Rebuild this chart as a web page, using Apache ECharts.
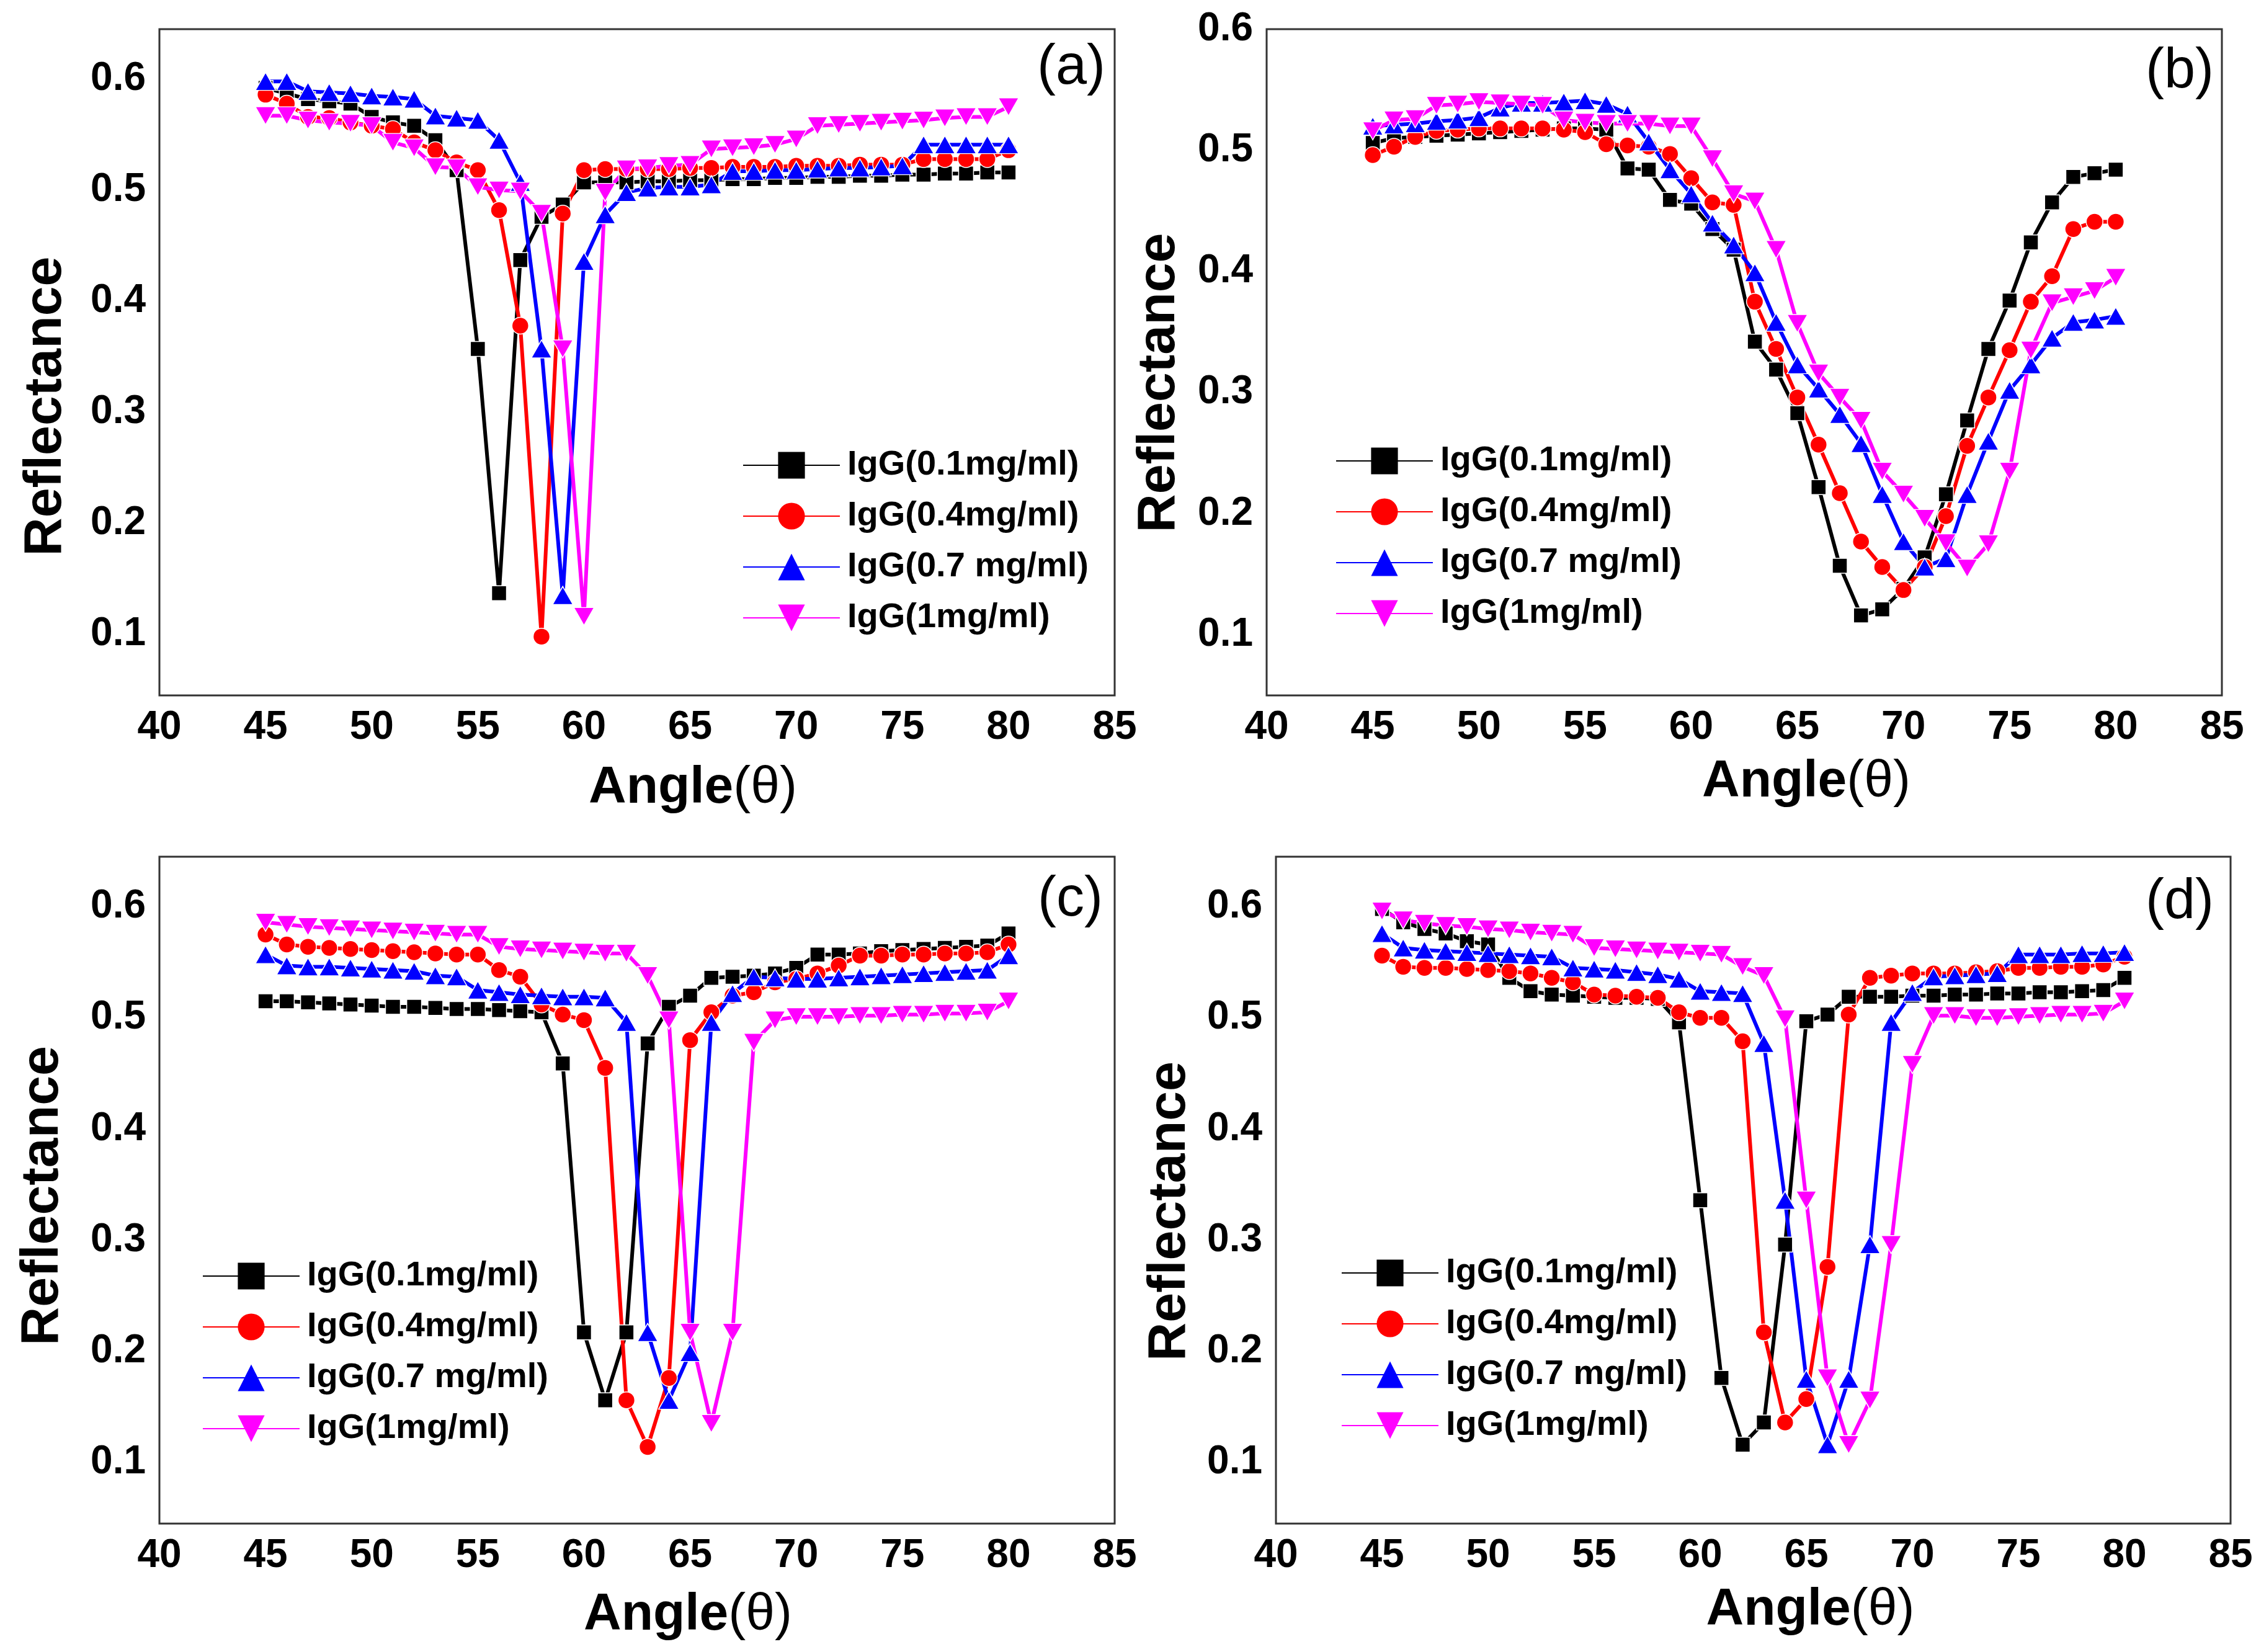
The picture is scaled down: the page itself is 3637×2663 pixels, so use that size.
<!DOCTYPE html>
<html>
<head>
<meta charset="utf-8">
<title>IgG reflectance curves</title>
<script src="https://cdn.jsdelivr.net/npm/echarts@6/dist/echarts.min.js"></script>
<style>
html, body { margin: 0; padding: 0; background: #fff; }
#chart { width: 3637px; height: 2663px; }
</style>
</head>
<body>
<div id="chart"></div>
<script>
// angle (deg) of every measured point, shared by all curves
var angles = [45,46,47,48,49,50,51,52,53,54,55,56,57,58,59,60,61,62,63,64,65,66,67,68,69,70,71,72,73,74,75,76,77,78,79,80];
var seriesNames = ['IgG(0.1mg/ml)', 'IgG(0.4mg/ml)', 'IgG(0.7 mg/ml)', 'IgG(1mg/ml)'];
var yTickLabels = ['0.1', '0.2', '0.3', '0.4', '0.5', '0.6'];
var panelLabels = ['(a)', '(b)', '(c)', '(d)'];

// (a)
var a01 = [0.592,0.587,0.582,0.580,0.578,0.566,0.561,0.558,0.545,0.518,0.357,0.137,0.437,0.476,0.487,0.507,0.507,0.507,0.508,0.508,0.509,0.509,0.510,0.510,0.511,0.511,0.512,0.512,0.513,0.513,0.514,0.514,0.515,0.515,0.516,0.516];
var a04 = [0.586,0.578,0.566,0.565,0.561,0.558,0.555,0.543,0.536,0.525,0.518,0.482,0.378,0.098,0.479,0.518,0.519,0.519,0.519,0.519,0.520,0.520,0.521,0.521,0.521,0.522,0.522,0.522,0.523,0.523,0.523,0.528,0.528,0.528,0.528,0.536];
var a07 = [0.598,0.598,0.589,0.588,0.587,0.585,0.584,0.582,0.567,0.565,0.563,0.545,0.507,0.357,0.135,0.436,0.478,0.498,0.502,0.503,0.503,0.505,0.517,0.517,0.518,0.518,0.519,0.520,0.520,0.521,0.522,0.541,0.541,0.541,0.541,0.541];
var a10 = [0.567,0.567,0.563,0.561,0.560,0.558,0.543,0.538,0.521,0.520,0.503,0.500,0.499,0.479,0.357,0.116,0.498,0.519,0.520,0.522,0.523,0.537,0.538,0.539,0.541,0.546,0.558,0.559,0.560,0.561,0.562,0.563,0.565,0.566,0.566,0.575];

// (b)
var b01 = [0.506,0.510,0.511,0.512,0.513,0.514,0.515,0.516,0.517,0.518,0.518,0.517,0.485,0.484,0.459,0.456,0.435,0.418,0.342,0.319,0.283,0.222,0.157,0.116,0.121,0.138,0.164,0.216,0.277,0.336,0.376,0.424,0.457,0.478,0.481,0.484];
var b04 = [0.496,0.503,0.511,0.516,0.517,0.518,0.518,0.518,0.518,0.517,0.515,0.505,0.504,0.503,0.497,0.477,0.457,0.455,0.375,0.336,0.296,0.257,0.217,0.177,0.156,0.137,0.156,0.198,0.256,0.296,0.335,0.375,0.396,0.435,0.441,0.441];
var b07 = [0.520,0.521,0.522,0.524,0.525,0.527,0.535,0.539,0.539,0.540,0.541,0.538,0.530,0.507,0.484,0.464,0.440,0.422,0.399,0.358,0.323,0.303,0.282,0.258,0.216,0.177,0.156,0.163,0.216,0.260,0.302,0.323,0.345,0.358,0.360,0.363];
var b10 = [0.516,0.525,0.526,0.537,0.538,0.540,0.539,0.538,0.537,0.525,0.523,0.522,0.522,0.522,0.520,0.520,0.493,0.464,0.458,0.418,0.357,0.316,0.296,0.277,0.235,0.216,0.196,0.176,0.155,0.175,0.235,0.335,0.374,0.379,0.384,0.395];

// (c)
var c01 = [0.515,0.515,0.514,0.513,0.512,0.511,0.510,0.510,0.509,0.508,0.508,0.507,0.506,0.505,0.459,0.217,0.156,0.217,0.477,0.510,0.520,0.536,0.537,0.538,0.540,0.545,0.557,0.557,0.558,0.560,0.561,0.562,0.563,0.564,0.565,0.576];
var c04 = [0.575,0.566,0.564,0.563,0.562,0.561,0.560,0.559,0.558,0.557,0.557,0.543,0.537,0.512,0.503,0.498,0.455,0.156,0.114,0.176,0.480,0.505,0.520,0.523,0.532,0.535,0.540,0.547,0.556,0.556,0.557,0.557,0.558,0.558,0.559,0.566];
var c07 = [0.557,0.547,0.546,0.546,0.545,0.544,0.543,0.542,0.538,0.537,0.525,0.523,0.521,0.520,0.519,0.519,0.518,0.496,0.217,0.156,0.199,0.496,0.522,0.537,0.536,0.535,0.535,0.536,0.537,0.538,0.539,0.540,0.541,0.542,0.543,0.556];
var c10 = [0.586,0.584,0.582,0.581,0.580,0.579,0.578,0.577,0.576,0.575,0.575,0.564,0.562,0.561,0.560,0.559,0.558,0.558,0.538,0.498,0.217,0.135,0.217,0.478,0.498,0.501,0.501,0.501,0.502,0.502,0.503,0.503,0.504,0.504,0.505,0.515];

// (d)
var d01 = [0.598,0.586,0.580,0.576,0.569,0.566,0.536,0.524,0.521,0.520,0.519,0.518,0.518,0.517,0.496,0.336,0.176,0.116,0.136,0.296,0.497,0.503,0.519,0.519,0.519,0.520,0.520,0.521,0.521,0.522,0.522,0.523,0.523,0.524,0.525,0.536];
var d04 = [0.556,0.546,0.545,0.545,0.544,0.543,0.542,0.540,0.536,0.532,0.521,0.520,0.519,0.518,0.505,0.500,0.500,0.479,0.217,0.136,0.157,0.276,0.503,0.536,0.538,0.540,0.540,0.540,0.541,0.542,0.545,0.545,0.546,0.546,0.548,0.555];
var d07 = [0.576,0.563,0.561,0.560,0.559,0.558,0.557,0.556,0.555,0.545,0.544,0.543,0.541,0.539,0.535,0.524,0.523,0.522,0.477,0.336,0.175,0.116,0.175,0.296,0.496,0.523,0.537,0.538,0.539,0.540,0.557,0.557,0.557,0.558,0.558,0.559];
var d10 = [0.596,0.588,0.585,0.583,0.582,0.580,0.579,0.577,0.576,0.575,0.563,0.562,0.561,0.560,0.559,0.558,0.557,0.546,0.538,0.499,0.336,0.176,0.116,0.156,0.296,0.458,0.502,0.502,0.500,0.500,0.501,0.502,0.503,0.503,0.504,0.515];

var panelData = [[a01, a04, a07, a10], [b01, b04, b07, b10], [c01, c04, c07, c10], [d01, d04, d07, d10]];

// looks of the four curves
var FONT = '"Liberation Sans", Arial, sans-serif';
var styles = [
    { color: '#000000', symbol: 'rect', size: 24, rotate: 0 },
    { color: '#ff0000', symbol: 'circle', size: 27, rotate: 0 },
    { color: '#0000ff', symbol: 'triangle', size: [33, 29], rotate: 0 },
    { color: '#ff00ff', symbol: 'triangle', size: [33, 29], rotate: 180 }
];

// where every panel sits on the page
var layout = [
    { grid: { left: 257, top: 47, width: 1540, height: 1074 }, yMin: 0.045, yMax: 0.645,
      legend: { left: 1192, top: 717 }, tag: [1782, 110],
      xShift: 180, xGap: 108, yGap: 140, yShift: 142 },
    { grid: { left: 2042, top: 47, width: 1540, height: 1074 }, yMin: 0.05, yMax: 0.6,
      legend: { left: 2148, top: 710 }, tag: [3569, 116],
      xShift: 200, xGap: 98, yGap: 130, yShift: 66 },
    { grid: { left: 257, top: 1381, width: 1540, height: 1075 }, yMin: 0.045, yMax: 0.645,
      legend: { left: 321, top: 2024 }, tag: [1778, 1451],
      xShift: 164, xGap: 106, yGap: 145, yShift: 18 },
    { grid: { left: 2057, top: 1381, width: 1539, height: 1075 }, yMin: 0.045, yMax: 0.645,
      legend: { left: 2157, top: 2019 }, tag: [3569, 1455],
      xShift: 184, xGap: 98, yGap: 128, yShift: 68 }
];

var grids = [], xAxes = [], yAxes = [], legends = [], series = [], graphics = [];

layout.forEach(function (p, k) {
    grids.push(Object.assign({ show: true, borderColor: '#333333', borderWidth: 3, backgroundColor: 'transparent' }, p.grid));

    xAxes.push({
        type: 'value', gridIndex: k, min: 40, max: 85, interval: 5,
        axisLine: { show: false }, axisTick: { show: false }, splitLine: { show: false },
        axisLabel: { fontSize: 64, fontWeight: 'bold', fontFamily: FONT, color: '#000', margin: 20 },
        name: '{b|Angle}{r|(θ)}', nameLocation: 'middle', nameGap: p.xGap,
        nameTextStyle: {
            padding: [0, 0, 0, p.xShift],
            rich: {
                b: { fontSize: 84, fontWeight: 'bold', fontFamily: FONT, color: '#000' },
                r: { fontSize: 84, fontWeight: 'normal', fontFamily: FONT, color: '#000' }
            }
        }
    });

    yAxes.push({
        type: 'value', gridIndex: k, min: p.yMin, max: p.yMax, interval: 0.005,
        axisLine: { show: false }, axisTick: { show: false }, splitLine: { show: false },
        axisLabel: {
            fontSize: 64, fontWeight: 'bold', fontFamily: FONT, color: '#000', margin: 22,
            formatter: function (v) {
                var s = v.toFixed(1);
                return (Math.abs(v - Number(s)) < 1e-6 && yTickLabels.indexOf(s) >= 0) ? s : '';
            }
        },
        name: 'Reflectance', nameLocation: 'middle', nameGap: p.yGap,
        nameTextStyle: { fontSize: 86, fontWeight: 'bold', fontFamily: FONT, color: '#000', padding: [0, p.yShift, 0, 0] }
    });

    legends.push({
        data: seriesNames, orient: 'vertical', left: p.legend.left, top: p.legend.top,
        itemWidth: 156, itemHeight: 54, itemGap: 26, selectedMode: false,
        itemStyle: { borderWidth: 0 },
        textStyle: { fontSize: 56, fontWeight: 'bold', fontFamily: FONT, color: '#000', lineHeight: 56, padding: [0, 0, 0, 7] }
    });

    panelData[k].forEach(function (vals, i) {
        var st = styles[i];
        series.push({
            name: seriesNames[i], type: 'line', xAxisIndex: k, yAxisIndex: k,
            data: angles.map(function (a, j) { return [a, vals[j]]; }),
            symbol: st.symbol, symbolSize: st.size, symbolRotate: st.rotate,
            showAllSymbol: true,
            lineStyle: { color: st.color, width: 6 },
            itemStyle: { color: st.color, borderColor: '#ffffff', borderWidth: 1.5 }
        });
    });

    graphics.push({
        type: 'text', x: p.tag[0], y: p.tag[1],
        style: {
            text: panelLabels[k], font: 'normal 90px ' + FONT, fill: '#000',
            align: 'right', verticalAlign: 'middle', textAlign: 'right', textVerticalAlign: 'middle'
        }
    });
});

var myChart = echarts.init(document.getElementById('chart'), null, { renderer: 'canvas' });
var option = {
    backgroundColor: '#ffffff',
    animation: false,
    grid: grids,
    xAxis: xAxes,
    yAxis: yAxes,
    legend: legends,
    series: series,
    graphic: graphics
};
myChart.setOption(option);
</script>
</body>
</html>
